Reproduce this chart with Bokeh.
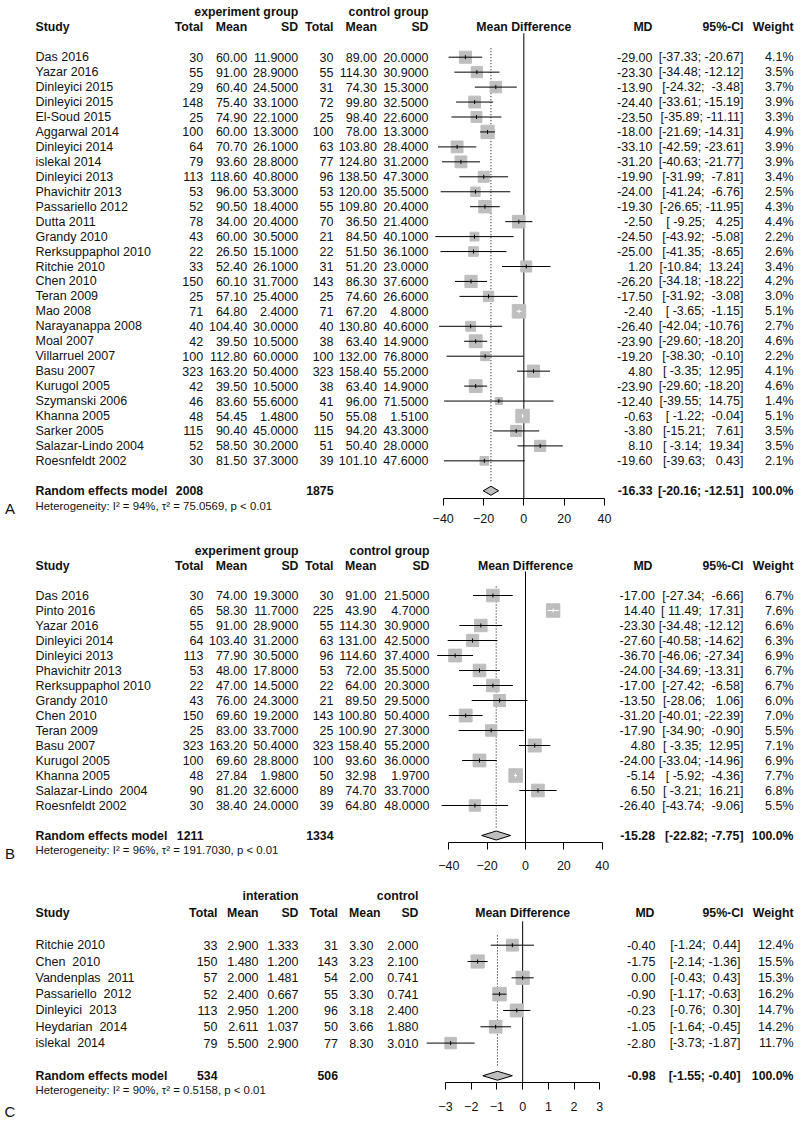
import math
from bokeh.plotting import figure
from bokeh.layouts import column, row
from bokeh.models import Range1d, LinearAxis, FixedTicker, Title
from bokeh.embed import file_html
from bokeh.resources import INLINE
from bokeh.core.properties import value

# ---------------- Panel A data ----------------
a_study = ["Das 2016", "Yazar 2016", "Dinleyici 2015", "Dinleyici 2015", "El-Soud 2015",
           "Aggarwal 2014", "Dinleyici 2014", "islekal 2014", "Dinleyici 2013", "Phavichitr 2013",
           "Passariello 2012", "Dutta 2011", "Grandy 2010", "Rerksuppaphol 2010", "Ritchie 2010",
           "Chen 2010", "Teran 2009", "Mao 2008", "Narayanappa 2008", "Moal 2007",
           "Villarruel 2007", "Basu 2007", "Kurugol 2005", "Szymanski 2006", "Khanna 2005",
           "Sarker 2005", "Salazar-Lindo 2004", "Roesnfeldt 2002"]
a_e_total = [30, 55, 29, 148, 25, 100, 64, 79, 113, 53, 52, 78, 43, 22, 33, 150, 25, 71, 40, 42,
             100, 323, 42, 46, 48, 115, 52, 30]
a_e_mean = [60.00, 91.00, 60.40, 75.40, 74.90, 60.00, 70.70, 93.60, 118.60, 96.00, 90.50, 34.00,
            60.00, 26.50, 52.40, 60.10, 57.10, 64.80, 104.40, 39.50, 112.80, 163.20, 39.50, 83.60,
            54.45, 90.40, 58.50, 81.50]
a_e_sd = [11.9, 28.9, 24.5, 33.1, 22.1, 13.3, 26.1, 28.8, 40.8, 53.3, 18.4, 20.4, 30.5, 15.1, 26.1,
          31.7, 25.4, 2.4, 30.0, 10.5, 60.0, 50.4, 10.5, 55.6, 1.48, 45.0, 30.2, 37.3]
a_c_total = [30, 55, 31, 72, 25, 100, 63, 77, 96, 53, 55, 70, 21, 22, 31, 143, 25, 71, 40, 38,
             100, 323, 38, 41, 50, 115, 51, 39]
a_c_mean = [89.00, 114.30, 74.30, 99.80, 98.40, 78.00, 103.80, 124.80, 138.50, 120.00, 109.80,
            36.50, 84.50, 51.50, 51.20, 86.30, 74.60, 67.20, 130.80, 63.40, 132.00, 158.40, 63.40,
            96.00, 55.08, 94.20, 50.40, 101.10]
a_c_sd = [20.0, 30.9, 15.3, 32.5, 22.6, 13.3, 28.4, 31.2, 47.3, 35.5, 20.4, 21.4, 40.1, 36.1, 23.0,
          37.6, 26.6, 4.8, 40.6, 14.9, 76.8, 55.2, 14.9, 71.5, 1.51, 43.3, 28.0, 47.6]
a_md = [-29.00, -23.30, -13.90, -24.40, -23.50, -18.00, -33.10, -31.20, -19.90, -24.00, -19.30,
        -2.50, -24.50, -25.00, 1.20, -26.20, -17.50, -2.40, -26.40, -23.90, -19.20, 4.80, -23.90,
        -12.40, -0.63, -3.80, 8.10, -19.60]
a_lo = [-37.33, -34.48, -24.32, -33.61, -35.89, -21.69, -42.59, -40.63, -31.99, -41.24, -26.65,
        -9.25, -43.92, -41.35, -10.84, -34.18, -31.92, -3.65, -42.04, -29.60, -38.30, -3.35,
        -29.60, -39.55, -1.22, -15.21, -3.14, -39.63]
a_hi = [-20.67, -12.12, -3.48, -15.19, -11.11, -14.31, -23.61, -21.77, -7.81, -6.76, -11.95, 4.25,
        -5.08, -8.65, 13.24, -18.22, -3.08, -1.15, -10.76, -18.20, -0.10, 12.95, -18.20, 14.75,
        -0.04, 7.61, 19.34, 0.43]
a_weight = [4.1, 3.5, 3.7, 3.9, 3.3, 4.9, 3.9, 3.9, 3.4, 2.5, 4.3, 4.4, 2.2, 2.6, 3.4, 4.2, 3.0,
            5.1, 2.7, 4.6, 2.2, 4.1, 4.6, 1.4, 5.1, 3.5, 3.5, 2.1]
a_summary = dict(e_total=2008, c_total=1875, md=-16.33, lo=-20.16, hi=-12.51, weight=100.0)
a_het = "Heterogeneity: I\u00b2 = 94%, \u03c4\u00b2 = 75.0569, p < 0.01"
a_groups = ["experiment group", "control group"]
a_ticks = [-40, -20, 0, 20, 40]

# ---------------- Panel B data ----------------
b_study = ["Das 2016", "Pinto 2016", "Yazar 2016", "Dinleyici 2014", "Dinleyici 2013",
           "Phavichitr 2013", "Rerksuppaphol 2010", "Grandy 2010", "Chen 2010", "Teran 2009",
           "Basu 2007", "Kurugol 2005", "Khanna 2005", "Salazar-Lindo\u00a0 2004", "Roesnfeldt 2002"]
b_e_total = [30, 65, 55, 64, 113, 53, 22, 43, 150, 25, 323, 100, 48, 90, 30]
b_e_mean = [74.00, 58.30, 91.00, 103.40, 77.90, 48.00, 47.00, 76.00, 69.60, 83.00, 163.20, 69.60,
            27.84, 81.20, 38.40]
b_e_sd = [19.3, 11.7, 28.9, 31.2, 30.5, 17.8, 14.5, 24.3, 19.2, 33.7, 50.4, 28.8, 1.98, 32.6, 24.0]
b_c_total = [30, 225, 55, 63, 96, 53, 22, 21, 143, 25, 323, 100, 50, 89, 39]
b_c_mean = [91.00, 43.90, 114.30, 131.00, 114.60, 72.00, 64.00, 89.50, 100.80, 100.90, 158.40,
            93.60, 32.98, 74.70, 64.80]
b_c_sd = [21.5, 4.7, 30.9, 42.5, 37.4, 35.5, 20.3, 29.5, 50.4, 27.3, 55.2, 36.0, 1.97, 33.7, 48.0]
b_md = [-17.00, 14.40, -23.30, -27.60, -36.70, -24.00, -17.00, -13.50, -31.20, -17.90, 4.80,
        -24.00, -5.14, 6.50, -26.40]
b_lo = [-27.34, 11.49, -34.48, -40.58, -46.06, -34.69, -27.42, -28.06, -40.01, -34.90, -3.35,
        -33.04, -5.92, -3.21, -43.74]
b_hi = [-6.66, 17.31, -12.12, -14.62, -27.34, -13.31, -6.58, 1.06, -22.39, -0.90, 12.95, -14.96,
        -4.36, 16.21, -9.06]
b_weight = [6.7, 7.6, 6.6, 6.3, 6.9, 6.7, 6.7, 6.0, 7.0, 5.5, 7.1, 6.9, 7.7, 6.8, 5.5]
b_summary = dict(e_total=1211, c_total=1334, md=-15.28, lo=-22.82, hi=-7.75, weight=100.0)
b_het = "Heterogeneity: I\u00b2 = 96%, \u03c4\u00b2 = 191.7030, p < 0.01"
b_groups = ["experiment group", "control group"]
b_ticks = [-40, -20, 0, 20, 40]

# ---------------- Panel C data ----------------
c_study = ["Ritchie 2010", "Chen\u00a0 2010", "Vandenplas\u00a0 2011", "Passariello\u00a0 2012",
           "Dinleyici\u00a0 2013", "Heydarian\u00a0 2014", "islekal\u00a0 2014"]
c_e_total = [33, 150, 57, 52, 113, 50, 79]
c_e_mean = [2.900, 1.480, 2.000, 2.400, 2.950, 2.611, 5.500]
c_e_sd = [1.333, 1.200, 1.481, 0.667, 1.200, 1.037, 2.900]
c_c_total = [31, 143, 54, 55, 96, 50, 77]
c_c_mean = [3.30, 3.23, 2.00, 3.30, 3.18, 3.66, 8.30]
c_c_sd = [2.000, 2.100, 0.741, 0.741, 2.400, 1.880, 3.010]
c_md = [-0.40, -1.75, 0.00, -0.90, -0.23, -1.05, -2.80]
c_lo = [-1.24, -2.14, -0.43, -1.17, -0.76, -1.64, -3.73]
c_hi = [0.44, -1.36, 0.43, -0.63, 0.30, -0.45, -1.87]
c_weight = [12.4, 15.5, 15.3, 16.2, 14.7, 14.2, 11.7]
c_summary = dict(e_total=534, c_total=506, md=-0.98, lo=-1.55, hi=-0.40, weight=100.0)
c_het = "Heterogeneity: I\u00b2 = 90%, \u03c4\u00b2 = 0.5158, p < 0.01"
c_groups = ["interation", "control"]
c_ticks = [-3, -2, -1, 0, 1, 2, 3]

headers = ["Study", "Total", "Mean", "SD", "Total", "Mean", "SD", "Mean Difference", "MD", "95%-CI", "Weight"]
summary_label = "Random effects model"

# ---------------- styling / layout ----------------
FONT = "Liberation Sans"
TXT = "#111111"
SQ = "#bebebe"
FS = "12.5px"
FSB = "12.3px"
NB = "\u00a0"
LETTER_W = 19
HAS_STANDOFF = "standoff" in Title.properties()


def add_text(p, x, y, texts, align="left", bold=False, size=None):
    n = len(texts)
    xs = x if isinstance(x, list) else [x] * n
    ys = y if isinstance(y, list) else [y] * n
    if size is None:
        size = FSB if bold else FS
    p.text(x=xs, y=ys, text=texts, text_align=align, text_baseline="middle",
           text_font=value(FONT), text_font_size=size,
           text_font_style="bold" if bold else "normal", text_color=TXT)


def add_below_title(p, text, size, standoff, offset=0):
    kw = dict(text=text, align="left", offset=offset, vertical_align="top",
              text_font=FONT, text_font_size=size, text_font_style="normal", text_color=TXT)
    if HAS_STANDOFF:
        kw["standoff"] = standoff
    p.add_layout(Title(**kw), "below")


def add_letter_axis(p, letter, standoff):
    ax = LinearAxis(ticker=FixedTicker(ticks=[]), axis_label=letter)
    ax.axis_line_color = None
    ax.major_tick_line_color = None
    ax.minor_tick_line_color = None
    ax.major_tick_out = 0
    ax.major_tick_in = 0
    ax.minor_tick_out = 0
    ax.minor_tick_in = 0
    ax.major_label_standoff = 0
    ax.axis_label_standoff = standoff
    ax.axis_label_text_font = FONT
    ax.axis_label_text_font_size = "15px"
    ax.axis_label_text_font_style = "normal"
    ax.axis_label_text_color = TXT
    p.add_layout(ax, "below")


def mkfig(w, h, xr, yr, border_bottom):
    p = figure(width=int(w), height=int(h), x_range=xr, y_range=yr, x_axis_type=None,
               y_axis_type=None, toolbar_location=None, output_backend="svg", min_border=0)
    p.min_border_bottom = int(border_bottom)
    p.outline_line_color = None
    p.background_fill_color = "white"
    p.border_fill_color = "white"
    return p


def fmt_ci(lo, hi, wl, wh):
    a = ("%.2f" % lo).rjust(wl).replace(" ", NB)
    b = ("%.2f" % hi).rjust(wh).replace(" ", NB)
    return "[%s; %s]" % (a, b)


def panel(d, L):
    top, bottom, y0, dy = L["top"], L["bottom"], L["y0"], L["dy"]
    n = len(d["study"])
    rows = list(range(n))
    srow = n + 1
    H = bottom - top
    border = bottom - L["axis_y"]
    col = L["cols"]
    hdr = dict(col, **L.get("hdr", {}))
    f = d["fmt"]
    S = d["summary"]

    def prow(py):
        return (py - y0) / dy

    yr = Range1d(start=prow(L["axis_y"]), end=prow(top))

    # ---- panel letter strip ----
    letter = mkfig(LETTER_W, H, Range1d(0, LETTER_W), yr, border)
    add_letter_axis(letter, L["label"], L["label_off"])

    # ---- left table ----
    left = mkfig(L["split"] - LETTER_W, H, Range1d(LETTER_W, L["split"]), yr, border)
    add_text(left, hdr["es"], -3, [d["groups"][0]], align="right", bold=True)
    add_text(left, hdr["cs"], -3, [d["groups"][1]], align="right", bold=True)
    add_text(left, col["study"], -2, [headers[0]], bold=True)
    for key, h in zip(["et", "em", "es", "ct", "cm", "cs"], headers[1:7]):
        add_text(left, hdr[key], -2, [h], align="right", bold=True)
    add_text(left, col["study"], rows, d["study"])
    add_text(left, col["et"], rows, ["%d" % v for v in d["e_total"]], align="right")
    add_text(left, col["em"], rows, [f["em"] % v for v in d["e_mean"]], align="right")
    add_text(left, col["es"], rows, [f["es"] % v for v in d["e_sd"]], align="right")
    add_text(left, col["ct"], rows, ["%d" % v for v in d["c_total"]], align="right")
    add_text(left, col["cm"], rows, [f["cm"] % v for v in d["c_mean"]], align="right")
    add_text(left, col["cs"], rows, [f["cs"] % v for v in d["c_sd"]], align="right")
    add_text(left, col["study"], srow, [summary_label], bold=True)
    add_text(left, col["et"], srow, ["%d" % S["e_total"]], align="right", bold=True)
    add_text(left, col["ct"], srow, ["%d" % S["c_total"]], align="right", bold=True)
    add_below_title(left, d["het"], "11.4px", L["het_off"], offset=col["study"] - LETTER_W)

    # ---- forest plot ----
    ppu = L["ppu"]
    fxr = Range1d((L["split"] - L["zero"]) / ppu, (L["fright"] - L["zero"]) / ppu)
    forest = mkfig(L["fright"] - L["split"], H, fxr, yr, border)
    axis_row = prow(L["axis_y"])
    add_text(forest, 0, -2, [headers[7]], align="center", bold=True)
    forest.segment(x0=[0], y0=[-24.0 / dy], x1=[0], y1=[axis_row], line_color="black", line_width=1)
    forest.segment(x0=[S["md"]], y0=[-0.6], x1=[S["md"]], y1=[srow - 0.5], line_color="black",
                   line_width=1, line_dash="1 2")
    wmax = max(d["weight"])
    sizes = [13.5 * math.sqrt(w / wmax) for w in d["weight"]]
    colors = ["white" if (hi - lo) * ppu < s else "black"
              for lo, hi, s in zip(d["lo"], d["hi"], sizes)]
    forest.scatter(x=d["md"], y=rows, marker="square", size=sizes, fill_color=SQ, line_color=SQ)
    forest.segment(x0=d["lo"], y0=rows, x1=d["hi"], y1=rows, line_color=colors, line_width=1)
    forest.scatter(x=d["md"], y=rows, marker="dash", angle=math.pi / 2, size=4,
                   line_color=colors, line_width=1)
    h = 4.5 / dy
    forest.patch(x=[S["lo"], S["md"], S["hi"], S["md"]], y=[srow, srow - h, srow, srow + h],
                 fill_color=SQ, line_color="black", line_width=1)
    ticks = d["ticks"]
    ax = LinearAxis(ticker=FixedTicker(ticks=ticks), bounds=(min(ticks), max(ticks)))
    ax.major_tick_out = 7
    ax.major_tick_in = 0
    ax.minor_tick_out = 0
    ax.minor_tick_in = 0
    ax.axis_line_color = "black"
    ax.major_tick_line_color = "black"
    ax.major_label_text_font = FONT
    ax.major_label_text_font_size = "12.5px"
    ax.major_label_text_color = TXT
    ax.major_label_standoff = L["standoff"]
    forest.add_layout(ax, "below")

    # ---- right table ----
    right = mkfig(800 - L["fright"], H, Range1d(L["fright"], 800), yr, border)
    for key, hname in zip(["md", "ci", "w"], headers[8:11]):
        add_text(right, hdr[key], -2, [hname], align="right", bold=True)
    wl = max(len("%.2f" % v) for v in d["lo"] + [S["lo"]])
    wh = max(len("%.2f" % v) for v in d["hi"] + [S["hi"]])
    ci = [fmt_ci(lo, hi, wl, wh) for lo, hi in zip(d["lo"], d["hi"])]
    add_text(right, col["md"], rows, ["%.2f" % v for v in d["md"]], align="right")
    add_text(right, col["ci"], rows, ci, align="right")
    add_text(right, col["w"], rows, ["%.1f%%" % v for v in d["weight"]], align="right")
    add_text(right, col["md"], srow, ["%.2f" % S["md"]], align="right", bold=True)
    add_text(right, col["ci"], srow, ["[%.2f; %.2f]" % (S["lo"], S["hi"])], align="right", bold=True)
    add_text(right, col["w"], srow, ["%.1f%%" % S["weight"]], align="right", bold=True)
    return row(letter, left, forest, right)


fmt_ab = dict(em="%.2f", es="%.4f", cm="%.2f", cs="%.4f")
fmt_c = dict(em="%.3f", es="%.3f", cm="%.2f", cs="%.3f")

A = dict(study=a_study, e_total=a_e_total, e_mean=a_e_mean, e_sd=a_e_sd, c_total=a_c_total,
         c_mean=a_c_mean, c_sd=a_c_sd, md=a_md, lo=a_lo, hi=a_hi, weight=a_weight,
         summary=a_summary, het=a_het, groups=a_groups, ticks=a_ticks, fmt=fmt_ab)
B = dict(study=b_study, e_total=b_e_total, e_mean=b_e_mean, e_sd=b_e_sd, c_total=b_c_total,
         c_mean=b_c_mean, c_sd=b_c_sd, md=b_md, lo=b_lo, hi=b_hi, weight=b_weight,
         summary=b_summary, het=b_het, groups=b_groups, ticks=b_ticks, fmt=fmt_ab)
C = dict(study=c_study, e_total=c_e_total, e_mean=c_e_mean, e_sd=c_e_sd, c_total=c_c_total,
         c_mean=c_c_mean, c_sd=c_c_sd, md=c_md, lo=c_lo, hi=c_hi, weight=c_weight,
         summary=c_summary, het=c_het, groups=c_groups, ticks=c_ticks, fmt=fmt_c)

LA = dict(top=0, bottom=541, y0=56.7, dy=14.95, split=432, fright=612, zero=523.35, ppu=2.016,
          axis_y=498, standoff=8, label="A", label_off=1, het_off=2,
          cols=dict(study=35, et=202.7, em=246.7, es=297.7, ct=333, cm=376.5, cs=428,
                    md=652, ci=743, w=793))
LB = dict(top=541, bottom=886, y0=595, dy=15.0, split=432, fright=612, zero=525, ppu=1.9175,
          axis_y=842, standoff=11, label="B", label_off=2, het_off=2,
          cols=dict(study=35, et=203, em=246.7, es=298, ct=333, cm=376, cs=429,
                    md=654.5, ci=743, w=793),
          hdr=dict(md=652))
LC = dict(top=886, bottom=1122, y0=945, dy=16.4, split=422, fright=612, zero=522.15, ppu=25.72,
          axis_y=1083, standoff=12, label="C", label_off=20, het_off=2,
          cols=dict(study=35, et=217, em=258, es=298, ct=337.5, cm=373, cs=418,
                    md=655, ci=740, w=793),
          hdr=dict(cm=380, ci=743, md=654))

layout = column(panel(A, LA), panel(B, LB), panel(C, LC))
open("out.html", "w").write(file_html(layout, INLINE))
